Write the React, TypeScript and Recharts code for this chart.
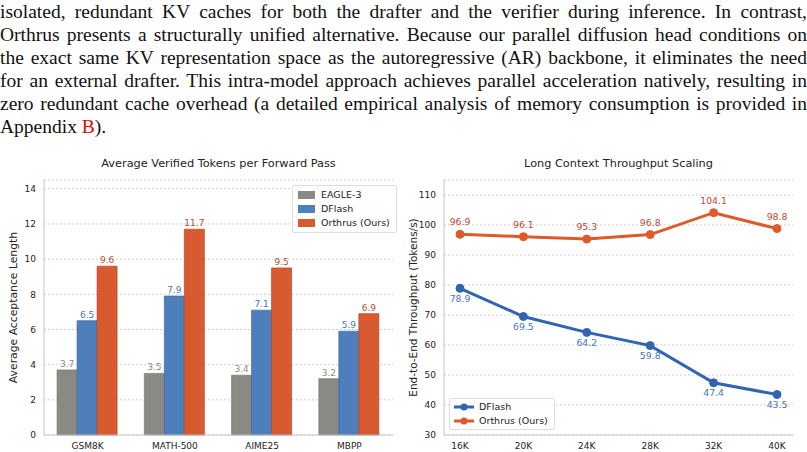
import {
  BarChart, Bar, XAxis, YAxis, CartesianGrid, LabelList,
  LineChart, Line,
} from 'recharts';

const paragraphLines = [
  'isolated, redundant KV caches for both the drafter and the verifier during inference.  In contrast,',
  'Orthrus presents a structurally unified alternative. Because our parallel diffusion head conditions on',
  'the exact same KV representation space as the autoregressive (AR) backbone, it eliminates the need',
  'for an external drafter. This intra-model approach achieves parallel acceleration natively, resulting in',
  'zero redundant cache overhead (a detailed empirical analysis of memory consumption is provided in',
];

const benchmarks = ['GSM8K', 'MATH-500', 'AIME25', 'MBPP'];
const eagle3 = [3.7, 3.5, 3.4, 3.2];
const dflashAcc = [6.5, 7.9, 7.1, 5.9];
const orthrusAcc = [9.6, 11.7, 9.5, 6.9];
const accTicks = [0, 2, 4, 6, 8, 10, 12, 14];

const contexts = ['16K', '20K', '24K', '28K', '32K', '40K'];
const dflashTput = [78.9, 69.5, 64.2, 59.8, 47.4, 43.5];
const orthrusTput = [96.9, 96.1, 95.3, 96.8, 104.1, 98.8];
const tputTicks = [30, 40, 50, 60, 70, 80, 90, 100, 110];

const accData = benchmarks.map((name, i) => ({
  name, eagle: eagle3[i], dflash: dflashAcc[i], orthrus: orthrusAcc[i],
}));
const tputData = contexts.map((name, i) => ({
  name, dflash: dflashTput[i], orthrus: orthrusTput[i],
}));

const FONT = '"DejaVu Sans", sans-serif';
const GREY = '#8b8984';
const BLUE = '#4f7ebc';
const ORANGE = '#d75a31';
const LINE_BLUE = '#3165b2';
const LINE_ORANGE = '#de5a2b';

const barSeries = [
  { key: 'eagle', name: 'EAGLE-3', color: GREY, edge: '#7a7873', label: '#8a8a8a' },
  { key: 'dflash', name: 'DFlash', color: BLUE, edge: '#40689f', label: '#4a74bd' },
  { key: 'orthrus', name: 'Orthrus (Ours)', color: ORANGE, edge: '#b8432a', label: '#bf4a2e' },
];
const lineSeries = [
  { key: 'dflash', name: 'DFlash', color: LINE_BLUE, label: '#4a74bd' },
  { key: 'orthrus', name: 'Orthrus (Ours)', color: LINE_ORANGE, label: '#bf4a2e' },
];

const tick = { fontSize: 9, fill: '#222', fontFamily: FONT };
const titleStyle = {
  position: 'absolute' as const, top: 7, left: 44, width: 349, textAlign: 'center' as const,
  fontFamily: FONT, fontSize: 11.3, color: '#222',
};

const legendBox = {
  position: 'absolute' as const,
  border: '1px solid #ddd', borderRadius: 2, background: 'rgba(255,255,255,0.85)',
  fontFamily: FONT, fontSize: 9.5, color: '#222', lineHeight: '14px',
};

export default function App() {
  return (
    <div style={{ position: 'absolute', left: 0, top: 0, width: 807, height: 452, background: '#fff', overflow: 'hidden' }}>
      <div style={{ position: 'absolute', left: 0, top: 0, width: 807, fontFamily: '"Liberation Serif", serif', fontSize: 19.5, lineHeight: '23px', color: '#111' }}>
        {paragraphLines.map((l) => (
          <div key={l} style={{ textAlign: 'justify', textAlignLast: 'justify', whiteSpace: 'nowrap' }}>{l}</div>
        ))}
        <div>Appendix <span style={{ color: '#e00' }}>B</span>).</div>
      </div>

      {/* left: acceptance length bars */}
      <div style={{ position: 'absolute', left: 0, top: 150, width: 400, height: 302 }}>
        <div style={titleStyle}>Average Verified Tokens per Forward Pass</div>
        <BarChart width={400} height={302} data={accData} margin={{ top: 30, right: 7, left: 0, bottom: 0 }}
          barCategoryGap="15%" barGap={0}>
          <CartesianGrid vertical={false} stroke="#cfcfcf" strokeDasharray="2 2" />
          <XAxis dataKey="name" tick={tick} tickLine={false} axisLine={{ stroke: '#c4c4c4' }} height={17} />
          <YAxis domain={[0, 14.5]} ticks={accTicks} tick={tick} tickLine={false} axisLine={{ stroke: '#c4c4c4' }} width={44}
            label={{ value: 'Average Acceptance Length', angle: -90, position: 'insideLeft', offset: 13, style: { textAnchor: 'middle', fontFamily: FONT, fontSize: 10.8, fill: '#222' } }} />
          {barSeries.map((s) => (
            <Bar key={s.key} dataKey={s.key} name={s.name} fill={s.color} stroke={s.edge} strokeWidth={0.7} isAnimationActive={false}>
              <LabelList dataKey={s.key} position="top" offset={3} style={{ fontSize: 9, fill: s.label, fontFamily: FONT }} />
            </Bar>
          ))}
        </BarChart>
        <div style={{ ...legendBox, left: 292, top: 35, padding: '2px 6px 2px 5px' }}>
          {barSeries.map((s) => (
            <div key={s.key} style={{ display: 'flex', alignItems: 'center' }}>
              <span style={{ width: 17, height: 8, background: s.color, marginRight: 6, display: 'inline-block' }} />
              {s.name}
            </div>
          ))}
        </div>
      </div>

      {/* right: throughput lines */}
      <div style={{ position: 'absolute', left: 400, top: 150, width: 407, height: 302 }}>
        <div style={titleStyle}>Long Context Throughput Scaling</div>
        <LineChart width={407} height={302} data={tputData} margin={{ top: 30, right: 14, left: 0, bottom: 0 }}>
          <CartesianGrid vertical={false} stroke="#cfcfcf" strokeDasharray="2 2" />
          <XAxis dataKey="name" tick={tick} tickLine={false} axisLine={{ stroke: '#c4c4c4' }} height={17}
            padding={{ left: 16, right: 16 }} />
          <YAxis domain={[30, 115]} ticks={tputTicks} tick={tick} tickLine={false} axisLine={{ stroke: '#c4c4c4' }} width={44}
            label={{ value: 'End-to-End Throughput (Tokens/s)', angle: -90, position: 'insideLeft', offset: 13, style: { textAnchor: 'middle', fontFamily: FONT, fontSize: 10.5, fill: '#222' } }} />
          {lineSeries.map((s) => (
            <Line key={s.key} dataKey={s.key} name={s.name} stroke={s.color} strokeWidth={3}
              dot={{ r: 4, fill: s.color, stroke: s.color, strokeWidth: 1 }} isAnimationActive={false}>
              <LabelList dataKey={s.key} position={s.key === 'dflash' ? 'bottom' : 'top'} offset={s.key === 'dflash' ? 7 : 9}
                style={{ fontSize: 9.3, fill: s.label, fontFamily: FONT }} />
            </Line>
          ))}
        </LineChart>
        <div style={{ ...legendBox, left: 49, top: 248, padding: '1px 6px 1px 4px' }}>
          {lineSeries.map((s) => (
            <div key={s.key} style={{ display: 'flex', alignItems: 'center' }}>
              <svg width={20} height={10} style={{ marginRight: 5 }}>
                <line x1={0} y1={5} x2={20} y2={5} stroke={s.color} strokeWidth={3} />
                <circle cx={10} cy={5} r={3.5} fill={s.color} />
              </svg>
              {s.name}
            </div>
          ))}
        </div>
      </div>
    </div>
  );
}
